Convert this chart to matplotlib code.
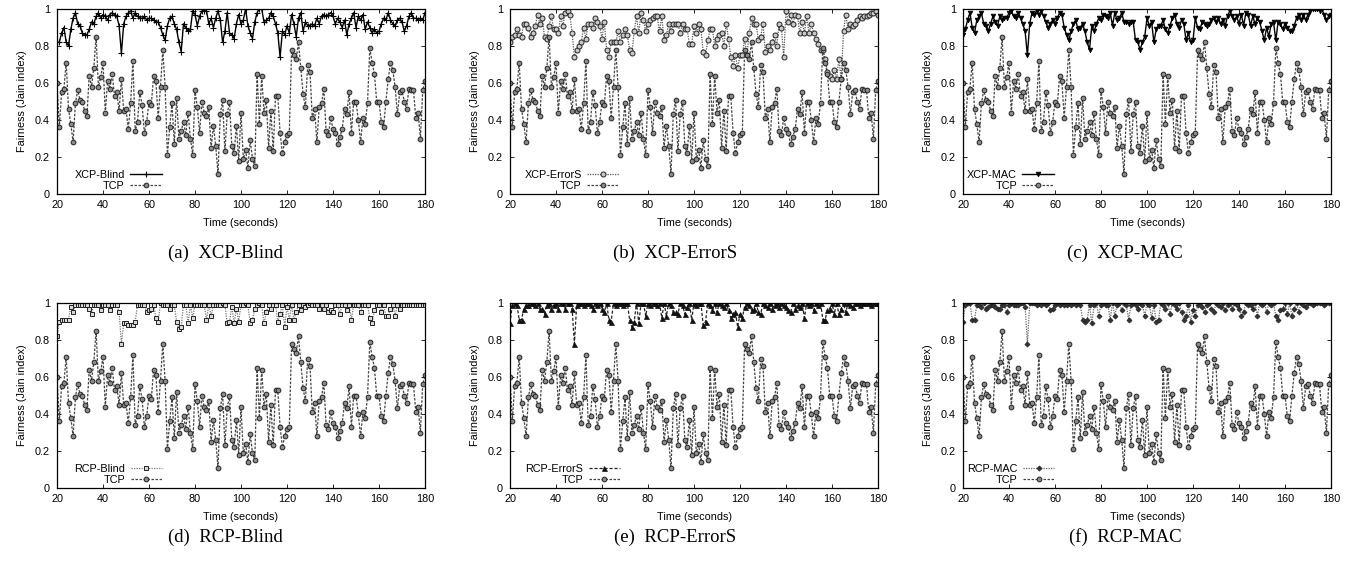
import numpy as np
import matplotlib
matplotlib.use("Agg")
import matplotlib.pyplot as plt

T_START = 20

tcp = [0.60,0.36,0.55,0.57,0.71,0.46,0.38,0.28,0.49,0.56,
       0.51,0.50,0.45,0.42,0.64,0.58,0.68,0.85,0.58,0.63,
       0.71,0.44,0.61,0.57,0.65,0.53,0.55,0.45,0.62,0.45,
       0.46,0.35,0.49,0.72,0.34,0.39,0.55,0.48,0.33,0.39,
       0.50,0.48,0.64,0.61,0.41,0.58,0.78,0.58,0.21,0.36,
       0.49,0.27,0.52,0.30,0.34,0.39,0.32,0.44,0.30,0.21,
       0.56,0.47,0.33,0.50,0.44,0.42,0.47,0.25,0.37,0.26,
       0.11,0.43,0.51,0.23,0.43,0.50,0.26,0.22,0.37,0.18,
       0.44,0.19,0.24,0.14,0.29,0.19,0.15,0.65,0.38,0.64,
       0.44,0.51,0.25,0.45,0.23,0.53,0.53,0.33,0.22,0.28,
       0.32,0.33,0.78,0.75,0.73,0.82,0.68,0.54,0.47,0.70,
       0.66,0.41,0.46,0.28,0.47,0.49,0.57,0.34,0.32,0.41,
       0.35,0.33,0.27,0.31,0.35,0.46,0.43,0.55,0.33,0.50,
       0.50,0.40,0.28,0.41,0.38,0.49,0.79,0.71,0.65,0.50,
       0.50,0.39,0.36,0.50,0.62,0.71,0.67,0.58,0.43,0.55,
       0.56,0.50,0.46,0.57,0.56,0.56,0.41,0.44,0.30,0.56,
       0.61]

xcp_blind = [0.82,0.82,0.87,0.90,0.82,0.80,0.89,0.95,0.98,0.92,
             0.91,0.87,0.86,0.86,0.89,0.93,0.92,0.96,0.98,0.95,
             0.97,0.96,0.94,0.97,0.98,0.97,0.96,0.91,0.76,0.92,
             0.96,0.98,0.99,0.95,0.98,0.96,0.95,0.95,0.96,0.94,
             0.95,0.95,0.94,0.93,0.93,0.90,0.86,0.83,0.91,0.95,
             0.96,0.92,0.89,0.82,0.77,0.92,0.90,0.88,0.89,0.99,
             0.97,0.91,0.96,0.99,0.99,0.99,0.92,0.95,0.90,0.95,
             0.99,0.94,0.82,0.88,0.98,0.87,0.86,0.84,0.92,0.97,
             0.92,0.94,1.00,0.91,0.87,0.84,0.93,0.98,1.00,1.00,
             0.93,0.94,0.95,0.98,0.96,0.92,0.87,0.74,0.88,0.86,
             0.91,0.87,0.97,0.92,0.85,0.95,0.98,0.88,0.93,0.91,
             0.91,0.92,0.91,0.95,0.92,0.96,0.97,0.96,0.97,0.98,
             0.96,0.92,0.95,0.93,0.90,0.94,0.86,0.92,0.95,0.98,
             0.90,0.96,0.94,0.97,0.89,0.93,0.90,0.87,0.89,0.87,
             0.88,0.92,0.95,0.94,0.98,0.94,0.92,0.91,0.94,0.95,
             0.93,0.88,0.91,0.96,0.98,0.95,0.95,0.94,0.95,0.94,
             0.98]

xcp_errors = [0.82,0.85,0.86,0.89,0.86,0.85,0.92,0.92,0.90,0.85,
              0.87,0.91,0.97,0.92,0.95,0.85,0.84,0.91,0.96,0.89,
              0.89,0.87,0.96,0.91,0.98,0.99,0.97,0.87,0.74,0.78,
              0.80,0.82,0.90,0.84,0.92,0.92,0.90,0.95,0.93,0.91,
              0.84,0.93,0.78,0.74,0.82,0.82,0.82,0.88,0.82,0.86,
              0.89,0.86,0.78,0.76,0.88,0.96,0.87,0.98,0.94,0.88,
              0.92,0.94,0.95,0.96,0.96,0.88,0.96,0.83,0.86,0.92,
              0.88,0.92,
              0.92,0.92,0.87,0.92,0.89,0.89,0.81,0.81,0.91,0.87,
              0.92,0.89,0.77,0.75,0.83,0.89,0.89,0.80,0.84,0.86,
              0.87,0.80,0.92,0.84,0.74,0.69,0.75,0.68,0.75,0.75,
              0.84,0.75,0.87,0.95,0.92,0.92,0.83,0.85,0.92,0.77,
              0.80,0.78,0.82,0.86,0.80,0.92,0.90,0.74,0.99,0.93,
              0.97,0.92,0.97,0.96,0.87,0.93,0.87,0.96,0.87,0.92,
              0.87,0.84,0.81,0.78,0.78,0.73,0.66,0.64,0.62,0.67,
              0.62,0.73,0.62,0.88,0.97,0.89,0.92,0.91,0.92,0.94,
              0.96,0.95,0.96,0.96,0.97,0.98,0.98,0.99,0.97]

xcp_mac = [0.86,0.89,0.94,0.98,0.90,0.87,0.94,0.96,0.98,0.92,
           0.91,0.88,0.92,0.96,0.93,0.91,0.96,0.94,0.95,0.95,
           0.98,0.99,0.96,0.95,0.98,0.95,0.92,0.88,0.75,0.92,
           0.98,0.97,0.99,0.97,0.99,0.96,0.93,0.90,0.92,0.94,
           0.92,0.95,0.98,0.97,0.90,0.86,0.83,0.88,0.92,0.94,
           0.89,0.90,0.92,0.88,0.82,0.78,0.91,0.88,0.92,0.95,
           0.94,0.97,0.96,0.95,0.98,0.91,0.98,0.94,0.95,0.98,
           0.93,0.93,
           0.92,0.93,0.93,0.83,0.82,0.78,0.82,0.85,0.95,0.91,
           0.93,0.82,0.89,0.91,0.91,0.94,0.89,0.87,0.91,0.95,
           0.97,0.92,0.90,0.94,0.92,0.83,0.87,0.82,0.83,0.95,
           0.90,0.89,0.93,0.92,0.91,0.92,0.94,0.95,0.93,0.95,
           0.92,0.94,0.91,0.96,0.99,0.96,0.94,0.96,0.92,0.97,
           0.91,0.98,0.97,0.91,0.96,0.92,0.95,0.93,0.88,0.83,
           0.90,0.85,0.92,0.93,0.83,0.93,0.92,0.89,0.92,0.90,
           0.88,0.88,0.91,0.95,0.97,0.94,0.97,0.94,0.97,0.99,
           1.00,1.00,1.00,0.99,1.00,0.97,0.94,0.96,0.97]

rcp_blind = [0.82,0.90,0.91,0.91,0.91,0.91,0.98,0.95,0.99,0.99,
             0.99,0.99,0.99,0.99,0.97,0.94,0.99,0.99,0.99,0.96,
             0.99,0.99,0.99,0.96,0.99,0.99,0.99,0.95,0.78,0.89,
             0.89,0.88,0.88,0.88,0.90,0.99,0.99,0.99,0.99,0.95,
             0.96,0.97,0.99,0.92,0.90,1.00,0.99,0.99,0.99,0.97,
             0.99,0.99,0.90,0.86,0.87,0.99,0.99,0.89,0.99,0.92,
             0.99,0.99,0.99,0.99,0.99,0.91,0.99,0.93,0.99,0.99,
             0.99,0.99,1.00,0.99,0.89,0.90,0.98,0.89,0.97,0.90,
             0.99,0.99,1.00,0.99,0.89,0.91,0.97,0.99,1.00,0.99,
             0.89,0.95,0.99,0.97,0.99,0.99,0.90,0.94,0.99,0.87,
             0.98,0.91,0.99,0.91,0.95,0.99,0.96,0.99,0.98,0.99,
             1.00,0.99,0.99,0.99,0.97,0.99,0.97,0.99,0.95,0.96,
             0.95,0.99,0.99,0.94,0.99,0.99,0.96,0.99,0.91,0.99,
             0.99,0.99,0.95,0.99,0.99,0.99,0.92,0.89,0.96,0.99,
             0.99,0.95,0.99,0.93,0.93,0.97,0.99,0.93,0.99,0.97,
             0.99,0.99,0.99,0.99,0.99,0.99,0.99,0.99,0.99,0.99,
             0.99]

rcp_errors = [0.89,0.99,1.00,0.99,0.91,0.91,0.97,0.99,0.99,1.00,
              1.00,0.99,1.00,0.97,0.97,0.94,0.99,1.00,0.97,0.99,
              1.00,0.97,1.00,1.00,0.97,1.00,1.00,0.97,0.78,0.99,
              1.00,1.00,0.99,1.00,1.00,0.99,0.97,1.00,0.99,1.00,
              0.97,0.95,1.00,0.91,0.90,1.00,0.99,1.00,1.00,0.99,
              1.00,1.00,0.91,0.87,0.90,1.00,0.89,1.00,1.00,0.93,
              1.00,0.99,1.00,1.00,0.99,1.00,0.92,1.00,0.93,1.00,
              0.99,0.95,0.95,0.94,1.00,0.99,0.94,0.98,1.00,0.91,
              1.00,0.99,1.00,1.00,0.88,0.90,1.00,0.99,0.96,1.00,
              0.95,1.00,0.99,0.98,1.00,0.96,0.92,0.94,0.95,0.87,
              0.94,0.92,0.98,1.00,0.99,0.96,0.97,1.00,0.95,0.94,
              1.00,0.99,0.98,1.00,0.97,0.99,1.00,0.98,1.00,0.99,
              0.98,0.96,0.95,1.00,0.97,0.99,0.98,1.00,0.92,1.00,
              0.99,1.00,0.96,1.00,0.99,1.00,0.91,0.91,0.96,0.97,
              1.00,0.94,1.00,0.94,0.97,1.00,0.95,1.00,0.99,0.98,
              1.00,1.00,0.99,1.00,1.00,1.00,1.00,0.99,1.00,1.00,
              1.00]

rcp_mac = [0.90,0.99,1.00,1.00,0.91,0.91,0.99,0.99,0.98,1.00,
           0.97,0.98,0.99,0.99,0.98,0.97,0.97,0.99,0.99,0.95,
           0.99,1.00,0.99,0.99,0.99,1.00,1.00,0.98,0.78,1.00,
           1.00,1.00,0.99,1.00,0.99,1.00,0.99,1.00,0.96,0.97,
           0.99,1.00,0.99,1.00,0.99,0.99,1.00,0.99,1.00,0.99,
           1.00,0.99,0.91,0.90,0.91,0.99,0.89,0.99,1.00,0.93,
           0.99,1.00,0.99,0.99,0.91,1.00,0.93,0.99,1.00,0.96,
           1.00,0.99,0.91,0.99,1.00,0.99,0.97,1.00,0.99,0.93,
           1.00,0.99,0.92,0.99,0.90,0.91,1.00,0.99,0.97,1.00,
           0.94,1.00,0.99,0.97,1.00,0.95,0.91,0.93,0.99,0.90,
           0.96,0.93,0.99,1.00,0.98,0.95,0.99,1.00,0.97,0.95,
           1.00,0.99,0.98,1.00,0.96,0.99,1.00,0.97,1.00,0.99,
           0.97,0.93,0.95,1.00,0.99,0.99,0.97,1.00,0.93,1.00,
           0.99,1.00,0.95,1.00,0.99,1.00,0.93,0.91,0.96,0.97,
           1.00,0.94,1.00,0.93,0.97,1.00,0.95,1.00,0.99,0.98,
           1.00,1.00,0.99,1.00,1.00,1.00,1.00,0.99,1.00,1.00,
           1.00]

labels = ["XCP-Blind", "XCP-ErrorS", "XCP-MAC", "RCP-Blind", "RCP-ErrorS", "RCP-MAC"]
captions = ["(a)  XCP-Blind", "(b)  XCP-ErrorS", "(c)  XCP-MAC",
            "(d)  RCP-Blind", "(e)  RCP-ErrorS", "(f)  RCP-MAC"]
series = [xcp_blind, xcp_errors, xcp_mac, rcp_blind, rcp_errors, rcp_mac]
x_ticks = [20, 40, 60, 80, 100, 120, 140, 160, 180]
y_ticks = [0, 0.2, 0.4, 0.6, 0.8, 1]
y_ticklabels = ["0", "0.2", "0.4", "0.6", "0.8", "1"]

styles = [
    dict(color="black", ls="-", lw=1.0, marker="+", ms=4.5, mew=0.8),
    dict(color="#555555", ls=(0, (1, 1)), lw=0.9, marker="o", ms=3.6, mfc="#c8c8c8", mec="#222222", mew=0.7),
    dict(color="black", ls="-", lw=1.0, marker="v", ms=3.4, mfc="black", mec="black", mew=0.5),
    dict(color="#777777", ls=(0, (1, 1)), lw=0.9, marker="s", ms=3.4, mfc="#d8d8d8", mec="#222222", mew=0.7),
    dict(color="#222222", ls=(0, (2.5, 1.5)), lw=0.9, marker="^", ms=3.6, mfc="#111111", mec="#111111", mew=0.5),
    dict(color="#666666", ls=(0, (1, 1)), lw=0.9, marker="D", ms=2.6, mfc="#333333", mec="#222222", mew=0.5),
]
tcp_style = dict(color="#444444", ls=(0, (2, 1.2)), lw=0.9, marker="o", ms=3.4, mfc="#8a8a8a", mec="#222222", mew=0.7)

plt.rcParams['font.family'] = ['Liberation Sans', 'DejaVu Sans']

W, H = 1349, 562
fig = plt.figure(figsize=(W / 100, H / 100), dpi=100)

lefts = [57, 510, 963]
width = 368
tops = [9, 303]
height = 185
legend_left = [0.040, 0.032, 0.004, 0.040, 0.034, 0.004]
cap_x = [225, 675, 1125]
cap_y = [253, 537]

for i in range(6):
    r, c = divmod(i, 3)
    ax = fig.add_axes([lefts[c] / W, 1 - (tops[r] + height) / H, width / W, height / H])
    vals = series[i]
    t = T_START + np.arange(len(vals))
    ax.plot(t, vals, label=labels[i], **styles[i])
    tt = T_START + np.arange(len(tcp))
    ax.plot(tt, tcp, label="TCP", **tcp_style)
    ax.set_xlim(20, 180)
    ax.set_ylim(0, 1)
    ax.set_xticks(x_ticks)
    ax.set_yticks(y_ticks)
    ax.set_yticklabels(y_ticklabels)
    ax.tick_params(direction="in", top=True, right=True, length=3, width=0.6,
                   labelsize=7.8, colors="black")
    ax.tick_params(axis="x", pad=4)
    ax.tick_params(axis="y", pad=5)
    for s in ax.spines.values():
        s.set_linewidth(0.9)
    ax.set_xlabel("Time (seconds)", fontsize=7.8)
    ax.set_ylabel("Fairness (Jain index)", fontsize=7.8)
    ax.xaxis.set_label_coords(0.5, -0.128)
    ax.yaxis.set_label_coords(-0.082, 0.5)
    leg = ax.legend(loc="lower left", bbox_to_anchor=(legend_left[i], 0.0),
                    markerfirst=False, frameon=False, fontsize=7.8,
                    handlelength=2.9, handletextpad=0.5, labelspacing=0.1,
                    borderpad=0.25, borderaxespad=0.0)
    fig.text(cap_x[c] / W, 1 - cap_y[r] / H, captions[i], ha="center", va="center",
             fontsize=13.5, family=["Liberation Serif", "DejaVu Serif"])

fig.savefig("out.png", dpi=100)
